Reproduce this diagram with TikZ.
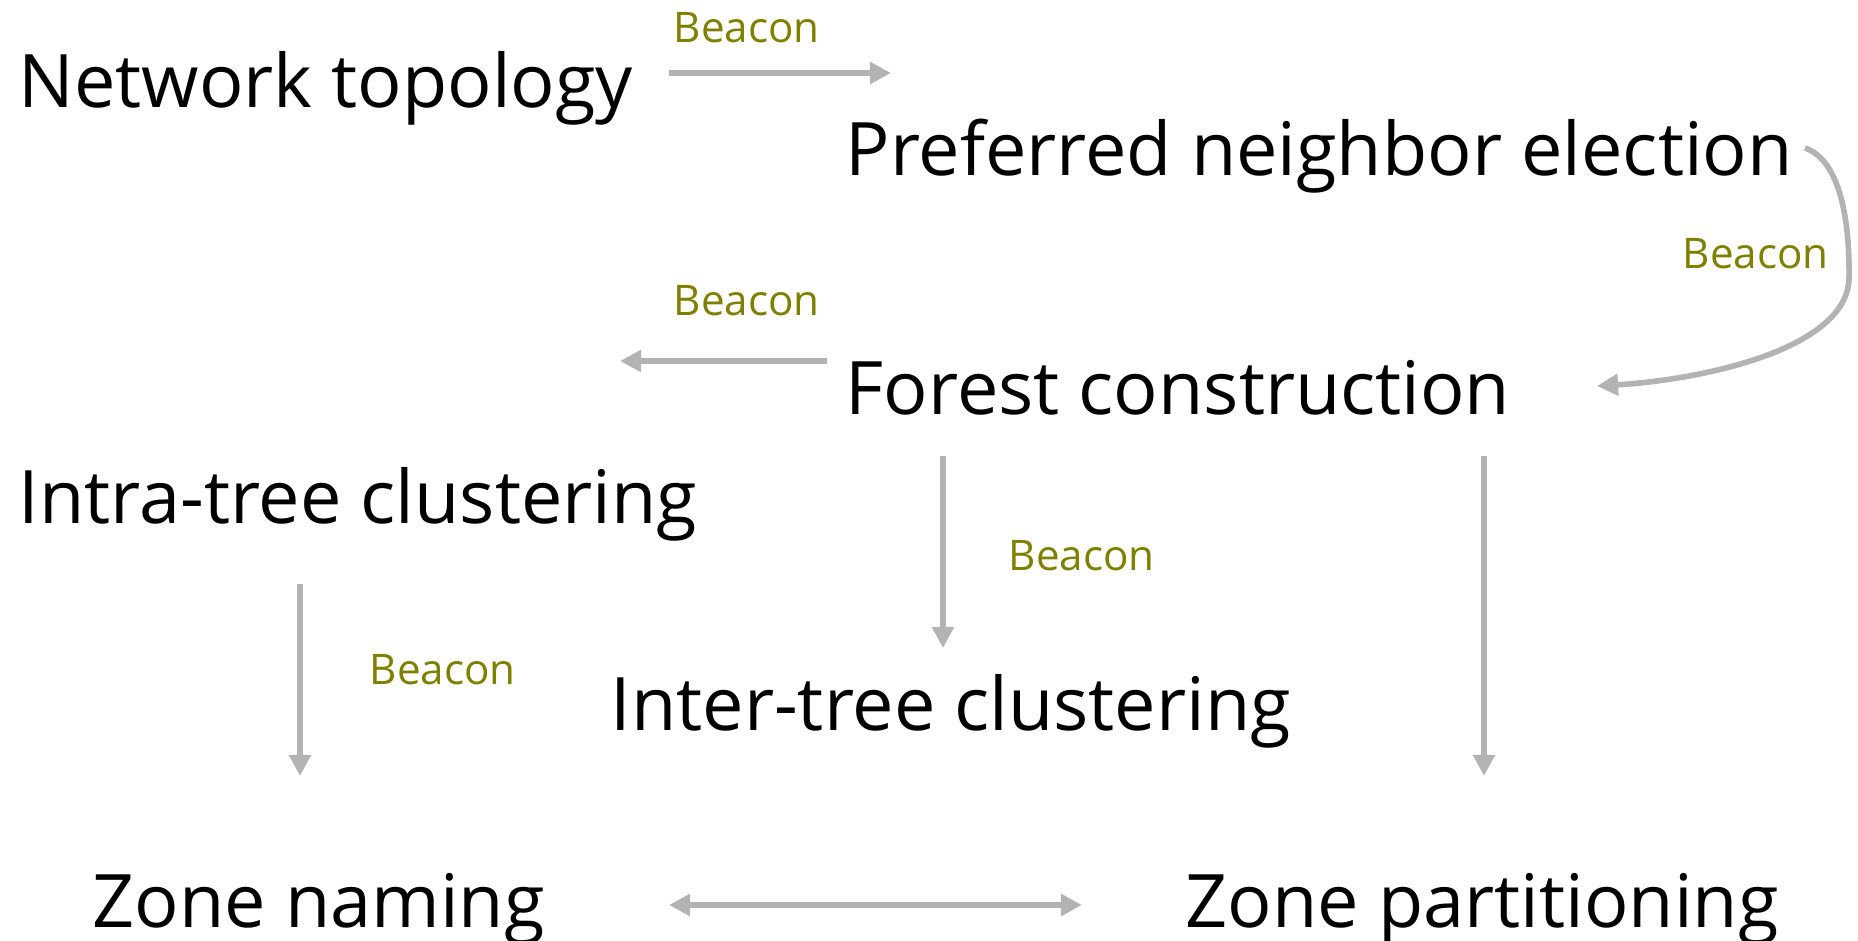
\documentclass[tikz,border=0pt]{standalone}
\usepackage{fontspec}
\setmainfont{Open Sans}
\usetikzlibrary{arrows.meta}
\definecolor{beaconcol}{RGB}{128,128,0}
\definecolor{flowgray}{RGB}{179,179,179}
\tikzset{stepname/.style={font=\fontsize{21}{25}\selectfont, inner sep=0pt, anchor=base west}}
\tikzset{beacon/.style={font=\fontsize{12}{15}\selectfont, text=beaconcol, inner sep=0pt, anchor=base west}}
\tikzset{flow/.style={draw=flowgray, line width=1.6pt, -{Triangle[length=6pt,width=6pt]}}}
\tikzset{flowboth/.style={draw=flowgray, line width=1.6pt, {Triangle[length=6pt,width=6pt]}-{Triangle[length=6pt,width=6pt]}}}
\begin{document}
\begin{tikzpicture}[x=1cm,y=1cm]
    \useasboundingbox (0,0) rectangle (18.58,-9.41);
    % the steps
    \node[stepname] (net) at (0.18,-1.07) {Network topology};
    \node[stepname] (pref) at (8.45,-1.75) {Preferred neighbor election};
    \node[stepname] (forest) at (8.45,-4.14) {Forest construction};
    \node[stepname] (intra) at (0.18,-5.23) {Intra-tree clustering};
    \node[stepname] (inter) at (6.10,-7.30) {Inter-tree clustering};
    \node[stepname] (naming) at (0.92,-9.27) {Zone naming};
    \node[stepname] (part) at (11.85,-9.27) {Zone partitioning};

    % beacon labels
    \node[beacon] (b1) at (6.73,-0.43) {Beacon};
    \node[beacon] (b2) at (16.82,-2.68) {Beacon};
    \node[beacon] (b3) at (6.73,-3.15) {Beacon};
    \node[beacon] (b4) at (10.08,-5.70) {Beacon};
    \node[beacon] (b5) at (3.69,-6.84) {Beacon};

    % arrow ends
    \coordinate (n1) at (6.69,-0.73);
    \coordinate (n2) at (8.91,-0.73);
    \coordinate (p1) at (18.05,-1.48);
    \coordinate (f1) at (15.97,-3.86);
    \coordinate (f2) at (8.27,-3.61);
    \coordinate (i1) at (6.20,-3.61);
    \coordinate (f3) at (9.43,-4.56);
    \coordinate (t1) at (9.43,-6.48);
    \coordinate (f4) at (14.84,-4.56);
    \coordinate (z1) at (14.84,-7.76);
    \coordinate (c1) at (3.00,-5.84);
    \coordinate (c2) at (3.00,-7.76);
    \coordinate (m1) at (6.69,-9.05);
    \coordinate (m2) at (10.82,-9.05);

    % connectors
    \draw[flow] (n1) -- (n2);
    \draw[flow] (p1) .. controls (18.40,-1.60) and (18.50,-2.20) .. (18.49,-2.80)
                     .. controls (18.45,-3.50) and (17.00,-3.80) .. (f1);
    \draw[flow] (f2) -- (i1);
    \draw[flow] (f3) -- (t1);
    \draw[flow] (f4) -- (z1);
    \draw[flow] (c1) -- (c2);
    \draw[flowboth] (m1) -- (m2);
\end{tikzpicture}
\end{document}
